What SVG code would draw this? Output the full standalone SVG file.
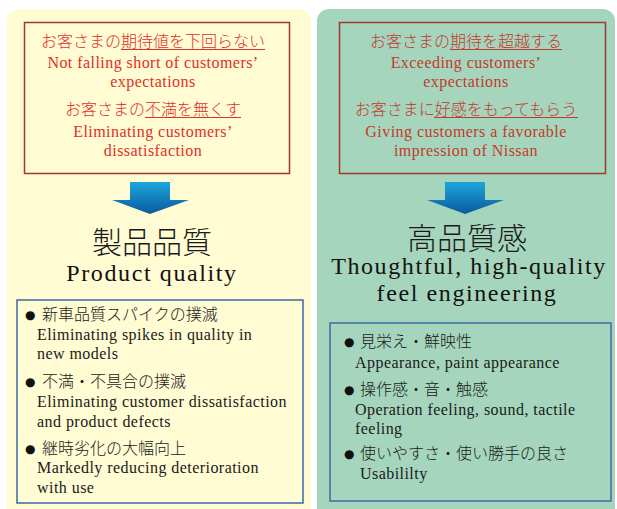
<svg xmlns="http://www.w3.org/2000/svg" width="617" height="509" viewBox="0 0 617 509">
<defs>
<linearGradient id="ag" x1="0" y1="0" x2="0" y2="1">
<stop offset="0" stop-color="#1ca6dc"/>
<stop offset="1" stop-color="#0a5a9c"/>
</linearGradient>
<style>
.jp{font-family:"Liberation Serif","Noto Sans CJK JP",serif;font-size:16px;font-weight:300}
.en{font-family:"Liberation Serif","Noto Sans CJK JP",serif;font-size:16px;letter-spacing:0.45px}
.hj{font-family:"Liberation Serif","Noto Sans CJK JP",serif;font-size:30px;font-weight:300;fill:#1a1a1a}
.he{font-family:"Liberation Serif",serif;font-size:24px;letter-spacing:1.6px;fill:#111}
.rl{fill:#e0302a}
.rr{fill:#c23a2c}
.k{fill:#1a1a1a}
.bul{font-family:"DejaVu Sans",sans-serif;font-size:12px;fill:#111}
.rbox{fill:none;stroke:#9b3b30;stroke-width:1.5}
.bbox{fill:none;stroke:#3d6aa8;stroke-width:1.5}
.ul{stroke-width:1.2}
</style>
</defs>
<g id="panel-left">
<rect x="7" y="9" width="304" height="512" rx="12" fill="#fffbd3"/>
</g>
<g id="panel-right">
<rect x="317" y="9" width="298" height="512" rx="12" fill="#a6d5bd"/>
</g>
<g id="goal-left">
<rect class="rbox" x="24.5" y="22.5" width="265" height="151"/>
<text class="jp rl" x="153" y="47" text-anchor="middle">お客さまの期待値を下回らない</text>
<line class="ul" x1="121" y1="49.5" x2="265" y2="49.5" stroke="#e0302a"/>
<text class="en rl" x="153" y="68" text-anchor="middle">Not falling short of customers’</text>
<text class="en rl" x="153" y="87" text-anchor="middle">expectations</text>
<text class="jp rl" x="153" y="115" text-anchor="middle">お客さまの不満を無くす</text>
<line class="ul" x1="145" y1="117.5" x2="241" y2="117.5" stroke="#e0302a"/>
<text class="en rl" x="153" y="137" text-anchor="middle">Eliminating customers’</text>
<text class="en rl" x="153" y="156" text-anchor="middle">dissatisfaction</text>
</g>
<g id="goal-right">
<rect class="rbox" x="339.5" y="22.5" width="266" height="151" stroke="#7a3024"/>
<text class="jp rr" x="466" y="47" text-anchor="middle">お客さまの期待を超越する</text>
<line class="ul" x1="450" y1="49.5" x2="562" y2="49.5" stroke="#c23a2c"/>
<text class="en rr" x="466" y="68" text-anchor="middle">Exceeding customers’</text>
<text class="en rr" x="466" y="87" text-anchor="middle">expectations</text>
<text class="jp rr" x="466" y="115" text-anchor="middle">お客さまに好感をもってもらう</text>
<line class="ul" x1="434" y1="117.5" x2="578" y2="117.5" stroke="#c23a2c"/>
<text class="en rr" x="466" y="137" text-anchor="middle">Giving customers a favorable</text>
<text class="en rr" x="466" y="156" text-anchor="middle">impression of Nissan</text>
</g>
<g id="connectors">
<path d="M130 182 H170 V200 H189 L150 214 L112 200 H130 Z" fill="url(#ag)"/>
<path d="M445 182 H485 V200 H504 L465 214 L427 200 H445 Z" fill="url(#ag)"/>
</g>
<g id="title-left">
<text class="hj" x="152" y="253" text-anchor="middle">製品品質</text>
<text class="he" x="152" y="281" text-anchor="middle">Product quality</text>
</g>
<g id="title-right">
<text class="hj" x="467" y="249" text-anchor="middle">高品質感</text>
<text class="he" x="469" y="274" text-anchor="middle">Thoughtful, high-quality</text>
<text class="he" x="467" y="301" text-anchor="middle">feel engineering</text>
</g>
<g id="list-left">
<rect class="bbox" x="17" y="300" width="286" height="203"/>
<text class="bul" x="25" y="319">●</text>
<text class="jp k" x="42" y="320">新車品質スパイクの撲滅</text>
<text class="en k" x="37" y="340">Eliminating spikes in quality in</text>
<text class="en k" x="37" y="359">new models</text>
<text class="bul" x="25" y="386">●</text>
<text class="jp k" x="42" y="387">不満・不具合の撲滅</text>
<text class="en k" x="37" y="407">Eliminating customer dissatisfaction</text>
<text class="en k" x="37" y="427">and product defects</text>
<text class="bul" x="25" y="453">●</text>
<text class="jp k" x="42" y="454">継時劣化の大幅向上</text>
<text class="en k" x="37" y="473">Markedly reducing deterioration</text>
<text class="en k" x="37" y="493">with use</text>
</g>
<g id="list-right">
<rect class="bbox" x="330" y="323" width="281" height="178"/>
<text class="bul" x="344" y="346">●</text>
<text class="jp k" x="360" y="347">見栄え・鮮映性</text>
<text class="en k" x="355" y="368">Appearance, paint appearance</text>
<text class="bul" x="344" y="394">●</text>
<text class="jp k" x="360" y="395">操作感・音・触感</text>
<text class="en k" x="355" y="415">Operation feeling, sound, tactile</text>
<text class="en k" x="355" y="434">feeling</text>
<text class="bul" x="344" y="458">●</text>
<text class="jp k" x="360" y="459">使いやすさ・使い勝手の良さ</text>
<text class="en k" x="360" y="479">Usabililty</text>
</g>
</svg>
